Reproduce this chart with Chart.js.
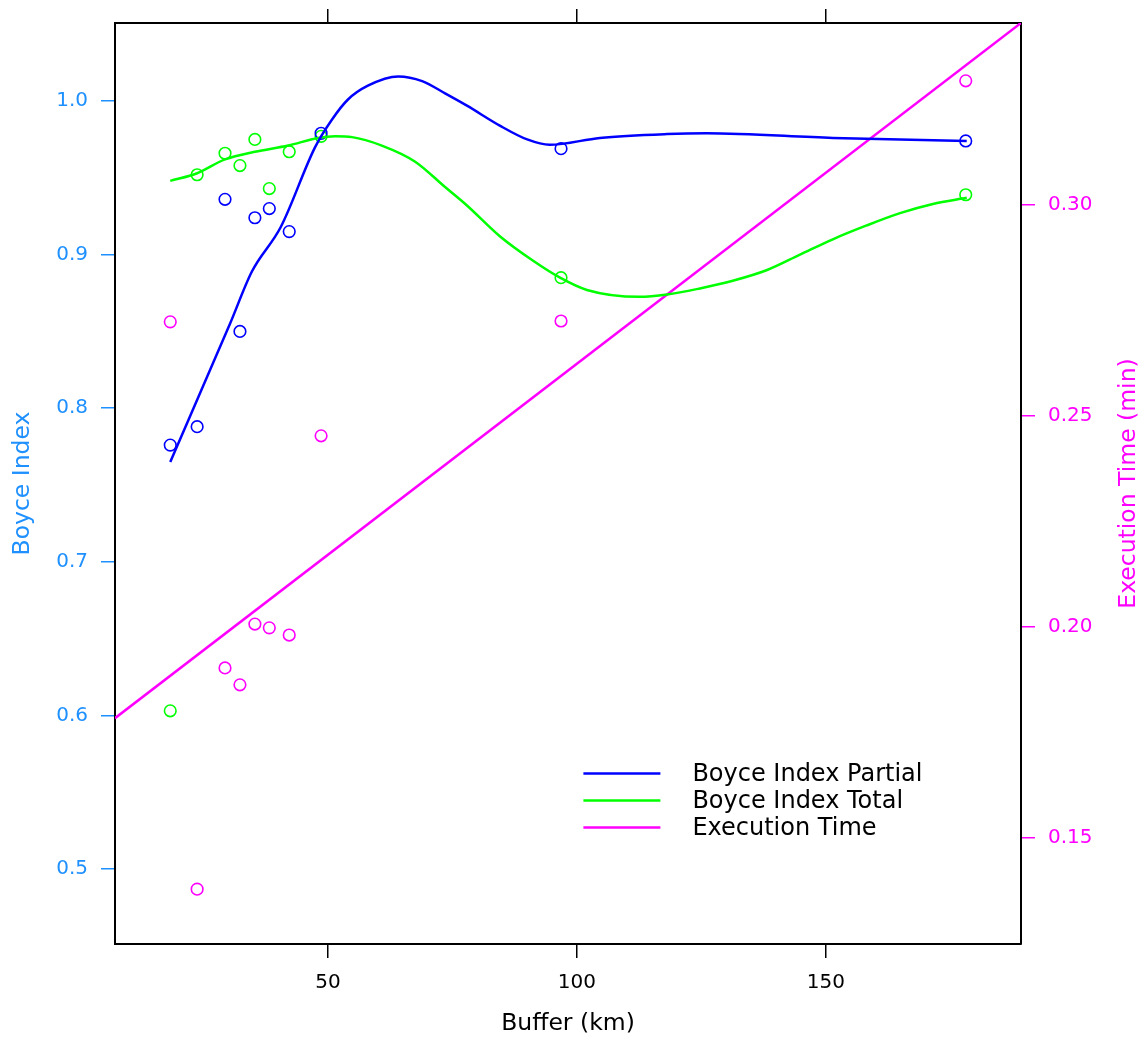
<!DOCTYPE html>
<html>
<head>
<meta charset="utf-8">
<script src="https://cdn.jsdelivr.net/npm/chart.js@4"></script>
<style>
  body { margin: 0; background: #fff; }
  #chart { display: block; }
</style>
</head>
<body>
<canvas id="chart" width="1146" height="1040"></canvas>
<script>
// Buffer sizes (km) of the observed runs
const buffers = [18.3, 23.7, 29.3, 32.3, 35.3, 38.2, 42.2, 48.6, 96.8, 178.1];
const boycePartial = [0.776, 0.788, 0.936, 0.850, 0.924, 0.930, 0.915, 0.979, 0.969, 0.974];
const boyceTotal = [0.603, 0.952, 0.966, 0.958, 0.975, 0.943, 0.967, 0.977, 0.885, 0.939];
const execTime = [0.2723, 0.1379, 0.1903, 0.1863, 0.2007, 0.1998, 0.1981, 0.2453, 0.2725, 0.3294];

// smoothed curves
const partialCurveX = [18.3, 30.3, 34.7, 40.5, 47.4, 50.8, 54.0, 58.0, 64.1, 68.9, 73.5, 77.9, 84.5, 90.0, 94.5, 104.6, 118.1, 126.0, 151.4, 164.9, 178.3];
const partialCurveY = [0.765, 0.855, 0.889, 0.918, 0.970, 0.988, 1.001, 1.010, 1.016, 1.013, 1.005, 0.997, 0.984, 0.975, 0.9715, 0.976, 0.9785, 0.979, 0.976, 0.975, 0.974];
const totalCurveX = [18.3, 23.7, 29.3, 35.3, 42.0, 48.0, 51.5, 54.8, 60.8, 67.5, 73.5, 77.9, 84.5, 91.2, 96.6, 102.0, 112.5, 118.1, 124.7, 131.3, 138.2, 144.8, 151.4, 158.2, 164.9, 171.5, 178.3];
const totalCurveY = [0.948, 0.953, 0.962, 0.967, 0.971, 0.976, 0.977, 0.9765, 0.971, 0.9605, 0.944, 0.932, 0.912, 0.896, 0.885, 0.877, 0.8725, 0.874, 0.878, 0.883, 0.890, 0.900, 0.910, 0.919, 0.927, 0.933, 0.937];
// linear fit of execution time
const execLineX = [7.2, 189.2];
const execLineY = [0.1784, 0.3431];

const xTicks = [50, 100, 150];
const yTicks = [0.5, 0.6, 0.7, 0.8, 0.9, 1.0];
const y2Ticks = [0.15, 0.20, 0.25, 0.30];

const BLUE = '#0000ff';
const GREEN = '#00ff00';
const MAGENTA = '#ff00ff';
const SKY = '#1e90ff';
const FONT = '"DejaVu Sans", sans-serif';

const pts = (xs, ys) => xs.map((x, i) => ({ x: x, y: ys[i] }));

function pointSet(label, data, color, axis) {
    return {
        label: label,
        data: data,
        yAxisID: axis,
        showLine: false,
        pointStyle: 'circle',
        pointRadius: 5.8,
        pointBorderWidth: 1.6,
        pointBorderColor: color,
        pointBackgroundColor: 'rgba(0,0,0,0)',
        inLegend: false
    };
}

function lineSet(label, data, color, axis) {
    return {
        label: label,
        data: data,
        yAxisID: axis,
        showLine: true,
        borderColor: color,
        borderWidth: 2.5,
        pointRadius: 0,
        cubicInterpolationMode: 'monotone',
        inLegend: true
    };
}

// fixed axis sizes so the plot frame sits where it does in the original
function fixSize(w, h) {
    return s => {
        if (w !== null) s.width = w;
        if (h !== null) s.height = h;
        s.paddingTop = 0;
        s.paddingBottom = 0;
        s.paddingLeft = 0;
        s.paddingRight = 0;
    };
}

// legend drawn inside the plot, lower right
const legendPlugin = {
    id: 'innerLegend',
    afterDraw(chart) {
        const ctx = chart.ctx;
        const a = chart.chartArea;
        const items = chart.data.datasets.filter(d => d.inLegend);
        const x0 = a.left + (a.right - a.left) * 0.517;
        const y0 = a.top + (a.bottom - a.top) * 0.815;
        ctx.save();
        ctx.font = '24px ' + FONT;
        ctx.textBaseline = 'middle';
        ctx.textAlign = 'left';
        items.forEach((d, i) => {
            const y = y0 + i * 27;
            ctx.strokeStyle = d.borderColor;
            ctx.lineWidth = 2.5;
            ctx.beginPath();
            ctx.moveTo(x0, y);
            ctx.lineTo(x0 + 77, y);
            ctx.stroke();
            ctx.fillStyle = '#000';
            ctx.fillText(d.label, x0 + 109, y + 1);
        });
        ctx.restore();
    }
};

// right axis title reads bottom to top
const rightTitlePlugin = {
    id: 'rightTitle',
    afterDraw(chart) {
        const ctx = chart.ctx;
        const a = chart.chartArea;
        ctx.save();
        ctx.translate(1129, (a.top + a.bottom) / 2);
        ctx.rotate(-Math.PI / 2);
        ctx.font = '23.5px ' + FONT;
        ctx.fillStyle = MAGENTA;
        ctx.textAlign = 'center';
        ctx.textBaseline = 'middle';
        ctx.fillText('Execution Time (min)', 0, 0);
        ctx.restore();
    }
};

const tickFont = { family: FONT, size: 20 };
const titleFont = { family: FONT, size: 23.5 };

new Chart(document.getElementById('chart'), {
    type: 'scatter',
    data: {
        datasets: [
            lineSet('Boyce Index Partial', pts(partialCurveX, partialCurveY), BLUE, 'y'),
            lineSet('Boyce Index Total', pts(totalCurveX, totalCurveY), GREEN, 'y'),
            lineSet('Execution Time', pts(execLineX, execLineY), MAGENTA, 'y2'),
            pointSet('Partial obs', pts(buffers, boycePartial), BLUE, 'y'),
            pointSet('Total obs', pts(buffers, boyceTotal), GREEN, 'y'),
            pointSet('Time obs', pts(buffers, execTime), MAGENTA, 'y2')
        ]
    },
    options: {
        responsive: false,
        animation: false,
        events: [],
        layout: { padding: 0 },
        plugins: {
            legend: { display: false },
            tooltip: { enabled: false }
        },
        scales: {
            x: {
                type: 'linear',
                position: 'bottom',
                min: 7.2,
                max: 189.2,
                afterBuildTicks: s => { s.ticks = xTicks.map(v => ({ value: v })); },
                afterFit: fixSize(null, 96),
                ticks: { color: '#000', font: tickFont, padding: 13, maxRotation: 0 },
                grid: { drawOnChartArea: false, tickLength: 14, color: '#000', lineWidth: 1.5 },
                border: { color: '#000', width: 2 },
                title: {
                    display: true,
                    text: 'Buffer (km)',
                    color: '#000',
                    font: titleFont,
                    padding: { top: 0, bottom: 2 }
                }
            },
            x2: {
                type: 'linear',
                position: 'top',
                min: 7.2,
                max: 189.2,
                afterBuildTicks: s => { s.ticks = xTicks.map(v => ({ value: v })); },
                afterFit: fixSize(null, 23),
                ticks: { display: false },
                grid: { drawOnChartArea: false, tickLength: 14, color: '#000', lineWidth: 1.5 },
                border: { color: '#000', width: 2 }
            },
            y: {
                type: 'linear',
                position: 'left',
                min: 0.4512,
                max: 1.0508,
                afterBuildTicks: s => { s.ticks = yTicks.map(v => ({ value: v })); },
                afterFit: fixSize(115, null),
                ticks: { color: SKY, font: tickFont, padding: 13, callback: v => v.toFixed(1) },
                grid: { drawOnChartArea: false, tickLength: 14, color: SKY, lineWidth: 1.5 },
                border: { color: '#000', width: 2 },
                title: {
                    display: true,
                    text: 'Boyce Index',
                    color: SKY,
                    font: titleFont,
                    padding: { top: 9, bottom: 0 }
                }
            },
            y2: {
                type: 'linear',
                position: 'right',
                min: 0.1249,
                max: 0.3431,
                afterBuildTicks: s => { s.ticks = y2Ticks.map(v => ({ value: v })); },
                afterFit: fixSize(125, null),
                ticks: { color: MAGENTA, font: tickFont, padding: 13, callback: v => v.toFixed(2) },
                grid: { drawOnChartArea: false, tickLength: 14, color: MAGENTA, lineWidth: 1.5 },
                border: { color: '#000', width: 2 }
            }
        }
    },
    plugins: [legendPlugin, rightTitlePlugin]
});
</script>
</body>
</html>
